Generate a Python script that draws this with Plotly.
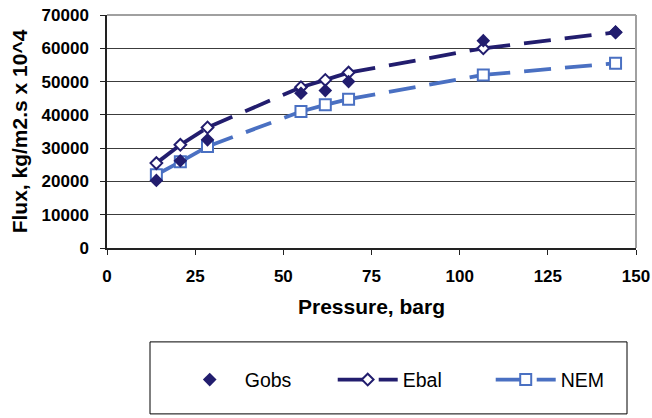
import plotly.graph_objects as go

# ---- data ----
gobs_x = [14.0, 20.8, 28.5, 55.0, 61.9, 68.5, 106.7, 144.2]
gobs_y = [20300, 26200, 32500, 46500, 47300, 50000, 62300, 64800]

ebal_x = [14.0, 20.8, 28.5, 55.0, 61.9, 68.5, 106.7, 144.2]
ebal_y = [25500, 31000, 36200, 48300, 50500, 52700, 60000, 64800]

nem_x = [14.0, 20.8, 28.5, 55.0, 61.9, 68.5, 106.7, 144.2]
nem_y = [22000, 25900, 30500, 41000, 43000, 44700, 52000, 55500]

x_ticks = [0, 25, 50, 75, 100, 125, 150]
y_ticks = [0, 10000, 20000, 30000, 40000, 50000, 60000, 70000]

NAVY = "#221d6e"
BLUE = "#4a70c2"
FONT = "Liberation Sans, Arial, sans-serif"
DASH = "27px,14px"
LW = 3.8

fig = go.Figure()


def add_series(name, xs, ys, color, symbol, size, fill):
    # dashed line: the dash pattern restarts on each segment (as in the original)
    for i in range(len(xs) - 1):
        fig.add_trace(go.Scatter(
            x=[xs[i], xs[i + 1]], y=[ys[i], ys[i + 1]], mode="lines",
            line=dict(color=color, width=LW, dash=DASH),
            showlegend=False, hoverinfo="skip", legendgroup=name))
    fig.add_trace(go.Scatter(
        x=xs, y=ys, mode="markers", name=name, showlegend=False, legendgroup=name,
        marker=dict(symbol=symbol, size=size, color=fill,
                    line=dict(color=color, width=2))))


add_series("NEM", nem_x, nem_y, BLUE, "square", 11, "white")
add_series("Ebal", ebal_x, ebal_y, NAVY, "diamond", 9, "white")

fig.add_trace(go.Scatter(
    x=gobs_x, y=gobs_y, mode="markers", name="Gobs",
    marker=dict(symbol="diamond", size=10.5, color=NAVY, line=dict(width=0))))

# legend entries for the line series
fig.add_trace(go.Scatter(
    x=[None], y=[None], mode="lines+markers", name="Ebal", legendgroup="Ebal",
    line=dict(color=NAVY, width=LW, dash=DASH),
    marker=dict(symbol="diamond", size=9, color="white", line=dict(color=NAVY, width=2))))
fig.add_trace(go.Scatter(
    x=[None], y=[None], mode="lines+markers", name="NEM", legendgroup="NEM",
    line=dict(color=BLUE, width=LW, dash=DASH),
    marker=dict(symbol="square", size=11, color="white", line=dict(color=BLUE, width=2))))

axis_font = dict(family=FONT, size=17, color="black", weight="bold")
title_font = dict(family=FONT, size=21, color="black", weight="bold")

fig.update_layout(
    width=652, height=418,
    margin=dict(l=107, r=16, t=15, b=170, autoexpand=False),
    paper_bgcolor="white", plot_bgcolor="white",
    font=dict(family=FONT, color="black"),
    xaxis=dict(
        range=[0, 150], tickvals=x_ticks, ticktext=[str(v) for v in x_ticks],
        showgrid=False, zeroline=False, showline=True, linecolor="#222", linewidth=1.5,
        ticks="outside", ticklen=5, tickcolor="#222", tickwidth=1,
        tickfont=axis_font, ticklabelstandoff=7, automargin=False,
        title=dict(text="Pressure, barg", font=title_font, standoff=14),
    ),
    yaxis=dict(
        range=[0, 70000], tickvals=y_ticks, ticktext=[str(v) for v in y_ticks],
        showgrid=True, gridcolor="#3c3c3c", gridwidth=1,
        zeroline=False, showline=True, linecolor="#222", linewidth=1.5,
        ticks="outside", ticklen=5, tickcolor="#222", tickwidth=1,
        tickfont=axis_font, ticklabelstandoff=8, automargin=False,
        title=dict(text="Flux, kg/m2.s x 10^4", font=title_font, standoff=8),
    ),
    legend=dict(
        orientation="h", x=0.128, xanchor="left", y=-0.566, yanchor="middle",
        itemwidth=60, entrywidth=83, entrywidthmode="pixels",
        font=dict(family=FONT, size=19.5, color="black"),
        bgcolor="rgba(0,0,0,0)", borderwidth=0,
        traceorder="normal",
    ),
    shapes=[
        # plot frame (top / right), grey
        dict(type="line", xref="paper", yref="paper", x0=0, x1=1, y0=1, y1=1,
             line=dict(color="#a0a0a0", width=2)),
        dict(type="line", xref="paper", yref="paper", x0=1, x1=1, y0=0, y1=1,
             line=dict(color="#a0a0a0", width=2)),
        # legend box
        dict(type="rect", xref="paper", yref="paper",
             x0=0.0813, x1=0.983, y0=-0.712, y1=-0.403,
             line=dict(color="black", width=1), fillcolor="rgba(0,0,0,0)"),
    ],
)

fig.write_html("out.html")
